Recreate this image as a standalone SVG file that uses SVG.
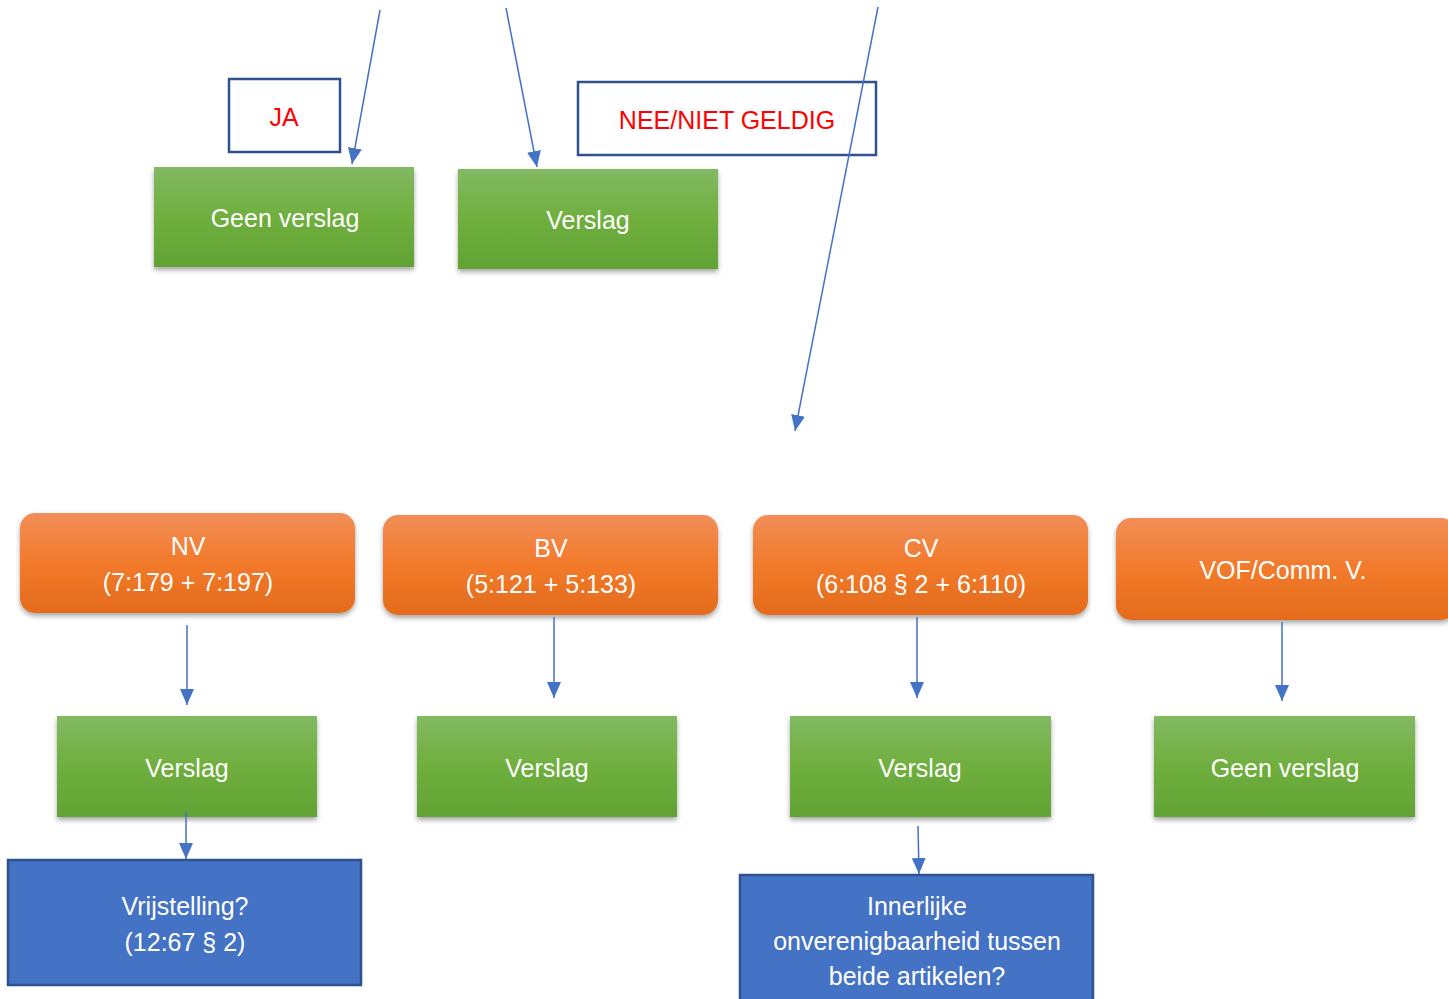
<svg xmlns="http://www.w3.org/2000/svg" width="1448" height="999" viewBox="0 0 1448 999">
<style>
text{font-family:"Liberation Sans",Arial,sans-serif;text-anchor:middle;}
.w{fill:#ffffff;font-size:25px;}
.r{fill:#ff0000;font-size:25px;}
.lbl{fill:#ffffff;stroke:#2F528F;stroke-width:2.5;}
.grn{fill:url(#gg);filter:url(#sh);}
.org{fill:url(#og);filter:url(#sh);}
.blu{fill:#4472C4;stroke:#2F528F;stroke-width:2.5;}
.c{stroke:#4472C4;stroke-width:1.5;fill:none;marker-end:url(#ah);}
</style>
<defs>
<linearGradient id="gg" x1="0" y1="0" x2="0" y2="1"><stop offset="0" stop-color="#83B962"/><stop offset="0.5" stop-color="#6FAF3E"/><stop offset="1" stop-color="#62A335"/></linearGradient>
<linearGradient id="og" x1="0" y1="0" x2="0" y2="1"><stop offset="0" stop-color="#F18E58"/><stop offset="0.5" stop-color="#F27A2A"/><stop offset="1" stop-color="#E36B1C"/></linearGradient>
<filter id="sh" x="-10%" y="-10%" width="120%" height="130%"><feDropShadow dx="0" dy="3" stdDeviation="2.5" flood-color="#000" flood-opacity="0.35"/></filter>
<marker id="ah" viewBox="0 0 16 14" refX="16" refY="7" markerWidth="16" markerHeight="14" markerUnits="userSpaceOnUse" orient="auto"><path d="M0,0 L16,7 L0,14 z" fill="#4472C4"/></marker>
</defs>
<g id="ja"><rect class="lbl" x="229" y="79" width="111" height="73"/><text class="r" x="284" y="126">JA</text></g>
<g id="nee"><rect class="lbl" x="578" y="82" width="298" height="73"/><text class="r" x="727" y="129">NEE/NIET GELDIG</text></g>
<g id="geen1"><rect class="grn" x="154" y="167" width="260" height="100"/><text class="w" x="285" y="227">Geen verslag</text></g>
<g id="verslag1"><rect class="grn" x="458" y="169" width="260" height="100"/><text class="w" x="588" y="229">Verslag</text></g>
<g id="nv"><rect class="org" x="20" y="513" width="335" height="100" rx="15"/><text class="w" x="188" y="555">NV</text><text class="w" x="188" y="591">(7:179 + 7:197)</text></g>
<g id="bv"><rect class="org" x="383" y="515" width="335" height="100" rx="15"/><text class="w" x="551" y="557">BV</text><text class="w" x="551" y="593">(5:121 + 5:133)</text></g>
<g id="cv"><rect class="org" x="753" y="515" width="335" height="100" rx="15"/><text class="w" x="921" y="557">CV</text><text class="w" x="921" y="593">(6:108 § 2 + 6:110)</text></g>
<g id="vof"><rect class="org" x="1116" y="518" width="340" height="102" rx="15"/><text class="w" x="1283" y="579">VOF/Comm. V.</text></g>
<g id="verslag-nv"><rect class="grn" x="57" y="716" width="260" height="101"/><text class="w" x="187" y="777">Verslag</text></g>
<g id="verslag-bv"><rect class="grn" x="417" y="716" width="260" height="101"/><text class="w" x="547" y="777">Verslag</text></g>
<g id="verslag-cv"><rect class="grn" x="790" y="716" width="261" height="101"/><text class="w" x="920" y="777">Verslag</text></g>
<g id="geen-vof"><rect class="grn" x="1154" y="716" width="261" height="101"/><text class="w" x="1285" y="777">Geen verslag</text></g>
<g id="vrijstelling"><rect class="blu" x="8" y="860" width="353" height="125"/><text class="w" x="185" y="915">Vrijstelling?</text><text class="w" x="185" y="951">(12:67 § 2)</text></g>
<g id="innerlijke"><rect class="blu" x="740" y="875" width="353" height="130"/><text class="w" x="917" y="915">Innerlijke</text><text class="w" x="917" y="950">onverenigbaarheid tussen</text><text class="w" x="917" y="985">beide artikelen?</text></g>
<g id="connectors">
<line class="c" x1="380" y1="10" x2="352" y2="164"/>
<line class="c" x1="506" y1="8" x2="537" y2="167"/>
<line class="c" x1="878" y1="7" x2="795" y2="431"/>
<line class="c" x1="187" y1="625" x2="187" y2="705"/>
<line class="c" x1="554" y1="617" x2="554" y2="698"/>
<line class="c" x1="917" y1="617" x2="917" y2="698"/>
<line class="c" x1="1282" y1="622" x2="1282" y2="701"/>
<line class="c" x1="186" y1="812" x2="186" y2="859"/>
<line class="c" x1="918" y1="826" x2="919" y2="874"/>
</g>
</svg>
